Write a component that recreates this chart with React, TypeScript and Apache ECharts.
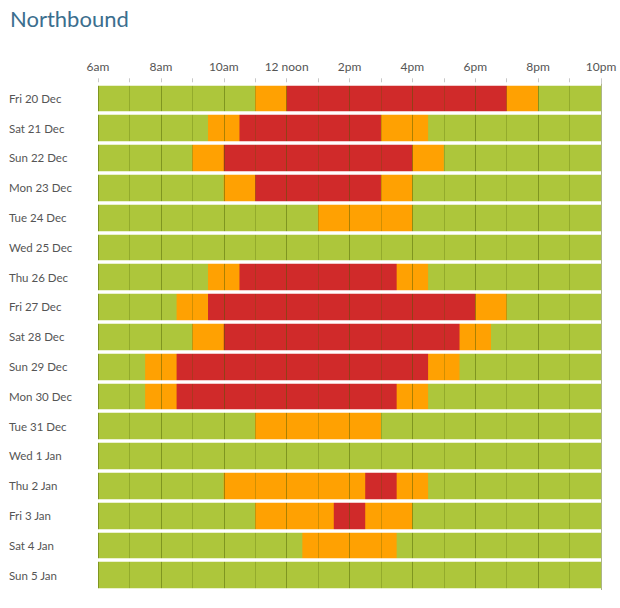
import React, { useEffect, useRef } from "react";
import * as echarts from "echarts";

const days = [
  "Fri 20 Dec", "Sat 21 Dec", "Sun 22 Dec", "Mon 23 Dec", "Tue 24 Dec", "Wed 25 Dec",
  "Thu 26 Dec", "Fri 27 Dec", "Sat 28 Dec", "Sun 29 Dec", "Mon 30 Dec", "Tue 31 Dec",
  "Wed 1 Jan", "Thu 2 Jan", "Fri 3 Jan", "Sat 4 Jan", "Sun 5 Jan",
];
// hours (24h clock) where each busy level starts and ends; null = none
const orangeStart = [11, 9.5, 9, 10, 13, null, 9.5, 8.5, 9, 7.5, 7.5, 11, null, 10, 11, 12.5, null];
const redStart = [12, 10.5, 10, 11, null, null, 10.5, 9.5, 10, 8.5, 8.5, null, null, 14.5, 13.5, null, null];
const redEnd = [19, 15, 16, 15, null, null, 15.5, 18, 17.5, 16.5, 15.5, null, null, 15.5, 14.5, null, null];
const orangeEnd = [20, 16.5, 17, 16, 16, null, 16.5, 19, 18.5, 17.5, 16.5, 15, null, 16.5, 16, 15.5, null];

const dayStart = 6;
const dayEnd = 22;
const tickLabels: Record<number, string> = {
  6: "6am", 8: "8am", 10: "10am", 12: "12 noon", 14: "2pm", 16: "4pm", 18: "6pm", 20: "8pm", 22: "10pm",
};

const levelColors = ["#adc63b", "#ffa102", "#d02a2a"];

export default function App() {
  const ref = useRef<HTMLDivElement>(null);
  useEffect(() => {
    if (!ref.current) return;
    const chart = echarts.init(ref.current, null, { renderer: "svg" });
    const segs: number[][] = [];
    days.forEach((_, i) => {
      segs.push([dayStart, dayEnd, i, 0]);
      if (orangeStart[i] != null && orangeEnd[i] != null) segs.push([orangeStart[i] as number, orangeEnd[i] as number, i, 1]);
      if (redStart[i] != null && redEnd[i] != null) segs.push([redStart[i] as number, redEnd[i] as number, i, 2]);
    });
    const font = "Lato";
    chart.setOption({
      animation: false,
      backgroundColor: "#ffffff",
      title: {
        text: "Northbound",
        left: 5,
        top: 2,
        textStyle: { fontFamily: font, fontSize: 22, fontWeight: "normal", color: "#3b6e8e" },
      },
      grid: { left: 98, right: 19, top: 83.3, bottom: 18, containLabel: false },
      xAxis: {
        type: "value",
        position: "top",
        min: dayStart,
        max: dayEnd,
        interval: 2,
        z: 3,
        axisLine: { show: false },
        axisTick: { show: true, length: 5, lineStyle: { color: "#c8c8c8" } },
        minorTick: { show: true, splitNumber: 2, length: 5, lineStyle: { color: "#c8c8c8" } },
        axisLabel: {
          margin: 11,
          fontFamily: font,
          fontSize: 12,
          color: "#555555",
          formatter: (v: number) => tickLabels[v] ?? "",
        },
        splitLine: { show: true, lineStyle: { color: "rgba(70,90,0,0.45)", width: 1 } },
        minorSplitLine: { show: true, lineStyle: { color: "rgba(70,90,0,0.25)", width: 1 } },
      },
      yAxis: {
        type: "category",
        data: days,
        inverse: true,
        z: 4,
        axisLine: { show: false },
        axisTick: { show: false },
        axisLabel: {
          interval: 0,
          align: "left",
          margin: 89,
          fontFamily: font,
          fontSize: 11.5,
          color: "#555555",
        },
        splitLine: { show: true, interval: 0, lineStyle: { color: "#ffffff", width: 3.5 } },
      },
      series: [
        {
          type: "custom",
          z: 2,
          encode: { x: [0, 1], y: 2 },
          data: segs,
          renderItem: (params: any, api: any) => {
            const s = api.coord([api.value(0), api.value(2)]);
            const e = api.coord([api.value(1), api.value(2)]);
            const h = api.size([0, 1])[1];
            return {
              type: "rect",
              shape: { x: s[0], y: s[1] - h / 2, width: e[0] - s[0], height: h },
              style: { fill: levelColors[api.value(3)] },
            };
          },
        },
      ],
    });
    return () => chart.dispose();
  }, []);
  return (
    <div
      ref={ref}
      style={{ position: "fixed", left: 0, top: 0, width: 620, height: 608 }}
    />
  );
}
